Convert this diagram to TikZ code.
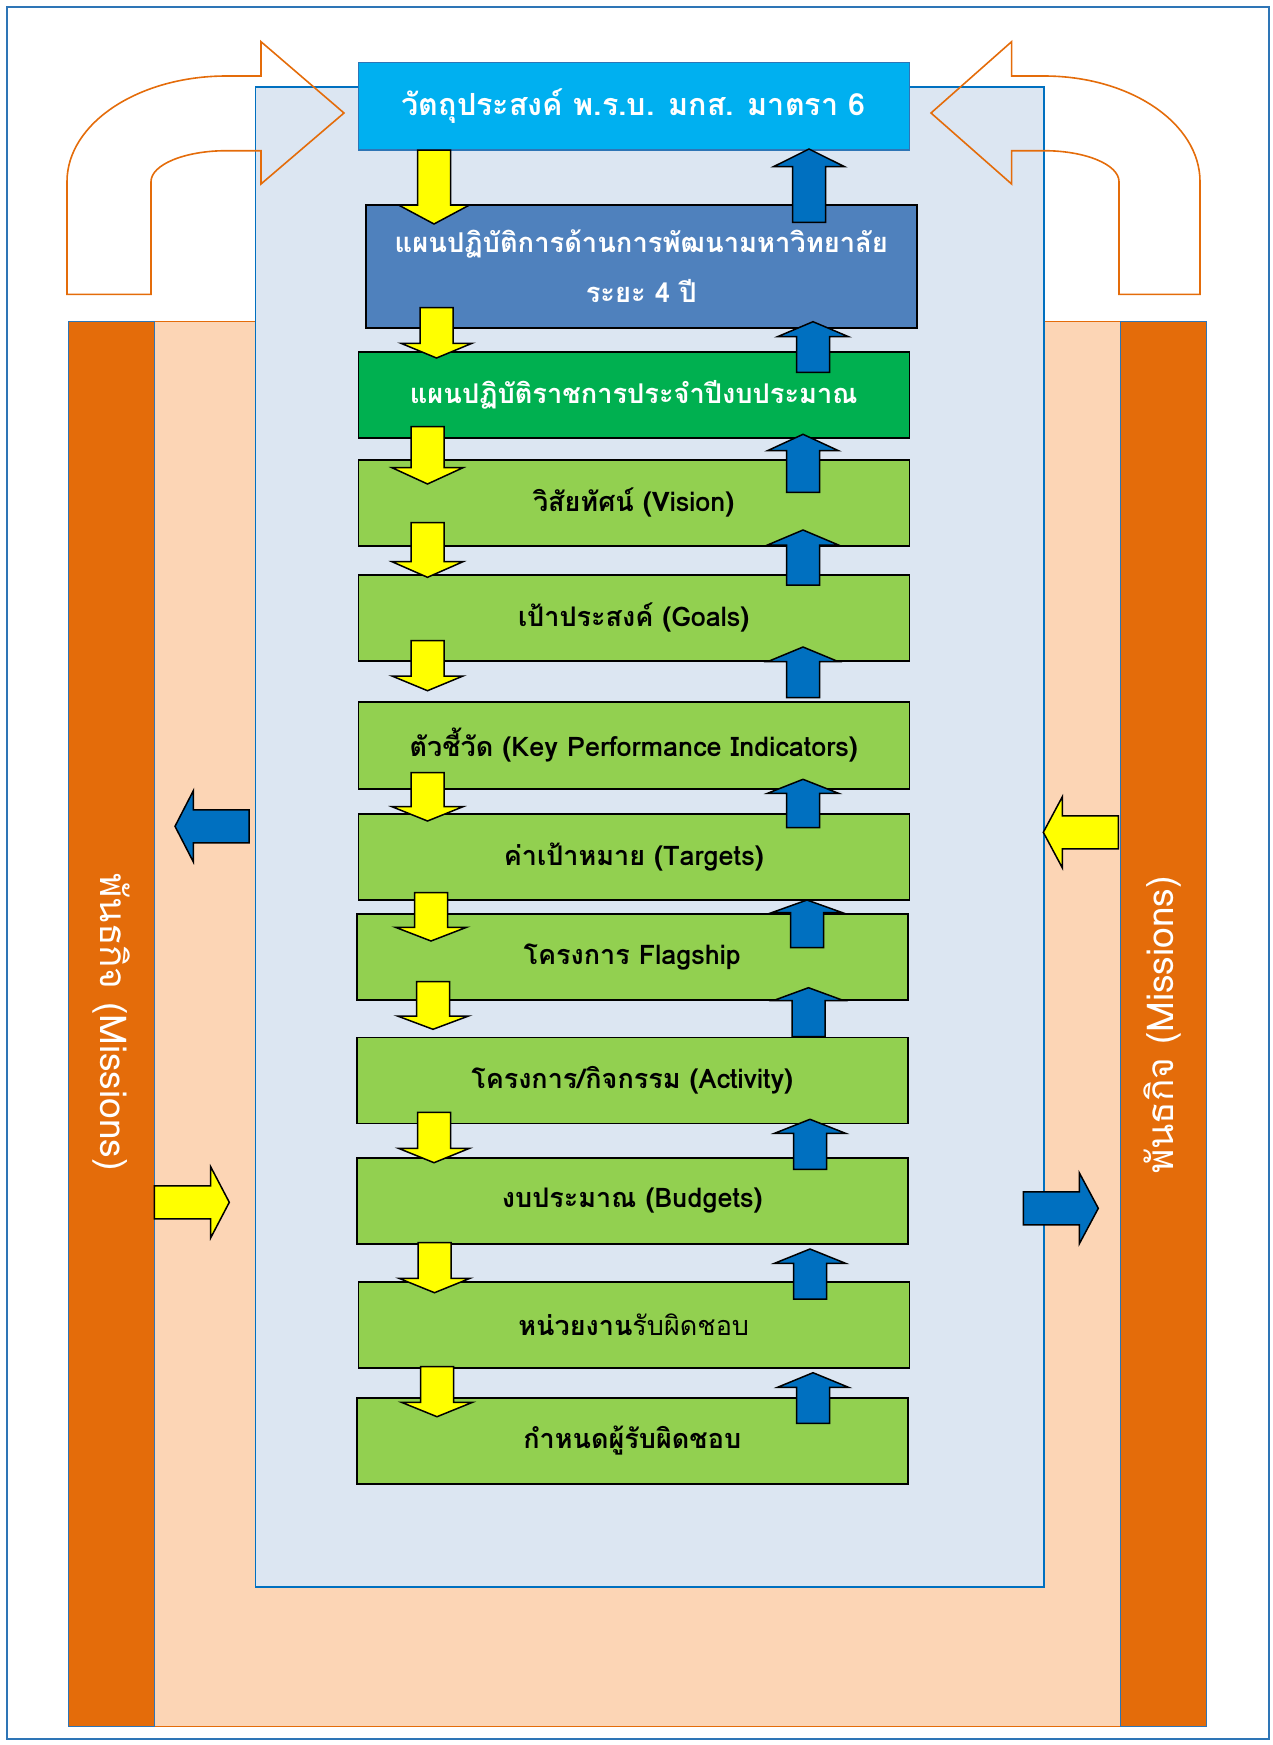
\documentclass[tikz,border=0pt]{standalone}
\usepackage{fontspec}
\setmainfont[Script=Thai]{Loma}
\usetikzlibrary{positioning}

\definecolor{frameblue}{HTML}{2E75B6}
\definecolor{panelblue}{HTML}{DCE6F2}
\definecolor{peach}{HTML}{FCD5B5}
\definecolor{barorange}{HTML}{E46C0A}
\definecolor{cyanbox}{HTML}{00B0F0}
\definecolor{steelbox}{HTML}{4F81BD}
\definecolor{greenbox}{HTML}{00B050}
\definecolor{limebox}{HTML}{92D050}
\definecolor{arrowblue}{HTML}{0070C0}
\definecolor{arrowyellow}{HTML}{FFFF00}

% vertical block arrow: style, centre x, tail y, head base y, tip y
\newcommand{\vblock}[5]{\draw[#1] (#2-16.5,#3) -- (#2-16.5,#4) -- (#2-35.5,#4) -- (#2,#5) -- (#2+35.5,#4) -- (#2+16.5,#4) -- (#2+16.5,#3) -- cycle;}
% horizontal block arrow: style, centre y, tail x, head base x, tip x
\newcommand{\hblock}[5]{\draw[#1] (#3,#2-16.5) -- (#4,#2-16.5) -- (#4,#2-35.5) -- (#5,#2) -- (#4,#2+35.5) -- (#4,#2+16.5) -- (#3,#2+16.5) -- cycle;}

\begin{document}
\begin{tikzpicture}[x=1pt,y=-1pt,semithick]
		\tikzstyle{plan}=[draw=black,line width=1.5pt,fill=limebox,minimum width=551pt,minimum height=86pt,anchor=north west,inner sep=0pt,font=\bfseries\fontsize{27}{31}\selectfont]
		\tikzstyle{yellowblock}=[fill=arrowyellow,draw=black,line width=1.5pt,line join=miter]
		\tikzstyle{blueblock}=[fill=arrowblue,draw=black,line width=1.5pt,line join=miter]
		\tikzstyle{bentarrow}=[draw=barorange,line width=1.6pt]
		\tikzstyle{mission}=[text=white,font=\fontsize{37}{42}\selectfont,inner sep=0pt]

		\useasboundingbox (0,0) rectangle (1272,1745);
		\draw[frameblue,line width=1.5pt] (7,7) rectangle (1269,1739);

		% surrounding missions
		\draw[barorange,fill=peach,line width=1pt] (68,321) rectangle (1206,1726);
		\draw[frameblue,fill=barorange,line width=1pt] (68,321) rectangle (154,1726);
		\draw[frameblue,fill=barorange,line width=1pt] (1120,321) rectangle (1206,1726);
		\node[mission,rotate=-90] (MisL) at (111,1022) {พันธกิจ (Missions)};
		\node[mission,rotate=90] (MisR) at (1163,1025) {พันธกิจ (Missions)};

		% inner panel
		\draw[arrowblue,fill=panelblue,line width=1.5pt] (255.5,87) rectangle (1044,1587);

		% bent arrows at the top
		\draw[bentarrow] (261,41.7) -- (344,113) -- (261,184) -- (261,150.7) -- (226.5,150.7)
			.. controls (184.8,150.7) and (151,164.6) .. (151,181.7) -- (151,294.3) -- (67,294.3) -- (67,181.7)
			.. controls (67,123.3) and (138.4,76) .. (226.5,76) -- (261,76) -- cycle;
		\draw[bentarrow] (1011.6,41.7) -- (931,113) -- (1011.6,184) -- (1011.6,150.7) -- (1044,150.7)
			.. controls (1085.4,150.7) and (1119,164.6) .. (1119,181.7) -- (1119,294.3) -- (1200,294.3) -- (1200,181.7)
			.. controls (1200,123.3) and (1130.2,76) .. (1044,76) -- (1011.6,76) -- cycle;

		\node[plan,fill=cyanbox,draw=frameblue,text=white,minimum height=87pt,font=\bfseries\fontsize{30.5}{34}\selectfont] (Obj) at (357.5,62) {วัตถุประสงค์ พ.ร.บ. มกส. มาตรา 6};
		\node[plan,fill=steelbox,text=white,minimum height=123pt,align=center,font=\bfseries\fontsize{27.3}{50}\selectfont] (Plan4) at (365,204) {แผนปฏิบัติการด้านการพัฒนามหาวิทยาลัย\\ระยะ 4 ปี};
		\node[plan,fill=greenbox,text=white,font=\bfseries\fontsize{27.2}{31}\selectfont] (Annual) at (357.5,351) {แผนปฏิบัติราชการประจำปีงบประมาณ};
		\node[plan] (Vision) at (357.5,459) {วิสัยทัศน์ (Vision)};
		\node[plan] (Goals) at (357.5,574) {เป้าประสงค์ (Goals)};
		\node[plan,minimum height=87pt] (KPI) at (357.5,701) {ตัวชี้วัด (Key Performance Indicators)};
		\node[plan] (Targets) at (357.5,813) {ค่าเป้าหมาย (Targets)};
		\node[plan] (Flag) at (356,913) {โครงการ Flagship};
		\node[plan] (Act) at (356,1036.5) {โครงการ/กิจกรรม (Activity)};
		\node[plan] (Budget) at (356,1157) {งบประมาณ (Budgets)};
		\node[plan] (Unit) at (357.5,1281) {หน่วยงาน{\mdseries รับผิดชอบ}};
		\node[plan] (Owner) at (356,1397) {กำหนดผู้รับผิดชอบ};

		% downward flow
		\vblock{yellowblock}{434}{150}{205}{224}
		\vblock{yellowblock}{436.5}{307.7}{343.3}{358}
		\vblock{yellowblock}{427.5}{426.7}{467.7}{484}
		\vblock{yellowblock}{427.5}{522.7}{561.7}{577.3}
		\vblock{yellowblock}{427.5}{640.7}{676}{690.7}
		\vblock{yellowblock}{427.5}{772.7}{806.7}{821}
		\vblock{yellowblock}{431}{892.7}{927.3}{941}
		\vblock{yellowblock}{433}{981.7}{1016}{1029.3}
		\vblock{yellowblock}{434}{1112.3}{1148.3}{1162.7}
		\vblock{yellowblock}{434.5}{1242.7}{1278.3}{1292.7}
		\vblock{yellowblock}{437}{1366.7}{1402.3}{1416.7}

		% upward flow
		\vblock{blueblock}{809}{222.3}{166.7}{149}
		\vblock{blueblock}{813}{372.3}{336.7}{321.7}
		\vblock{blueblock}{803}{492.3}{450.7}{434.3}
		\vblock{blueblock}{803}{585}{545}{530}
		\vblock{blueblock}{803}{697.7}{661.7}{647}
		\vblock{blueblock}{803}{827.7}{793.3}{779.3}
		\vblock{blueblock}{807}{947.7}{912.7}{900}
		\vblock{blueblock}{808.5}{1036.7}{1000.7}{987.7}
		\vblock{blueblock}{810}{1169.3}{1133.3}{1119.3}
		\vblock{blueblock}{810}{1299}{1263.3}{1249}
		\vblock{blueblock}{813}{1423.3}{1387.3}{1372.7}

		% side arrows
		\hblock{blueblock}{826.3}{249}{193.3}{175}
		\hblock{yellowblock}{1202.3}{154.3}{210.7}{229.3}
		\hblock{yellowblock}{832.3}{1118.3}{1062.3}{1043.3}
		\hblock{blueblock}{1208.3}{1023.3}{1079.3}{1098.3}
	\end{tikzpicture}
\end{document}
